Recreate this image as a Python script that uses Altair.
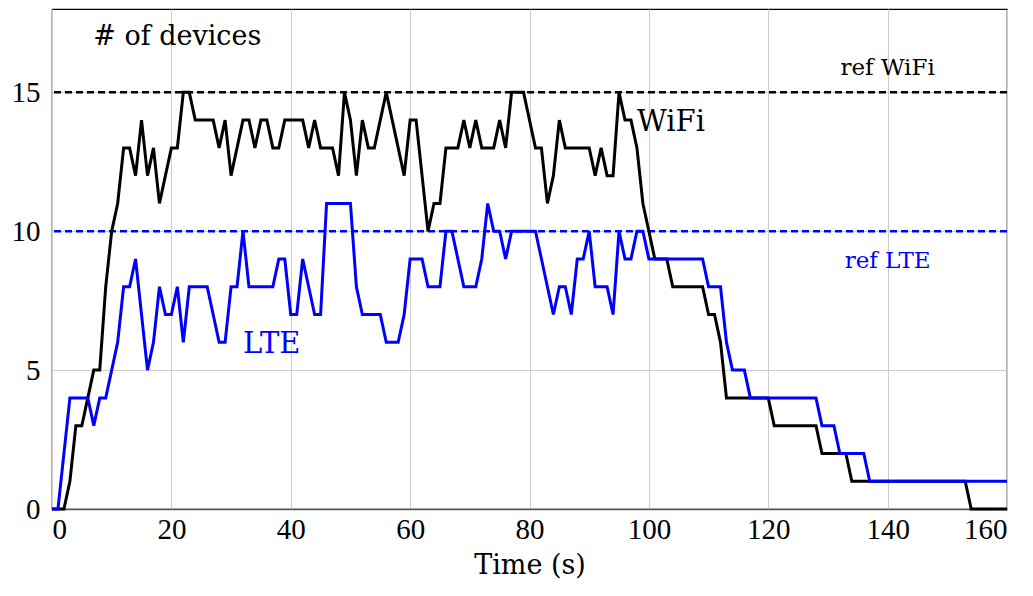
import altair as alt
import pandas as pd

# ---- data ----
time_s = list(range(161))

wifi = [0, 0, 0, 1, 3, 3, 4, 5, 5, 8,
        10, 11, 13, 13, 12, 14, 12, 13, 11, 12,
        13, 13, 15, 15, 14, 14, 14, 14, 13, 14,
        12, 13, 14, 14, 13, 14, 14, 13, 13, 14,
        14, 14, 14, 13, 14, 13, 13, 13, 12, 15,
        14, 12, 14, 13, 13, 14, 15, 14, 13, 12,
        14, 14, 12, 10, 11, 11, 13, 13, 13, 14,
        13, 14, 13, 13, 13, 14, 13, 15, 15, 15,
        14, 13, 13, 11, 12, 14, 13, 13, 13, 13,
        13, 12, 13, 12, 12, 15, 14, 14, 13, 11,
        10, 9, 9, 9, 8, 8, 8, 8, 8, 8,
        7, 7, 6, 4, 4, 4, 4, 4, 4, 4,
        4, 3, 3, 3, 3, 3, 3, 3, 3, 2,
        2, 2, 2, 2, 1, 1, 1, 1, 1, 1,
        1, 1, 1, 1, 1, 1, 1, 1, 1, 1,
        1, 1, 1, 1, 0, 0, 0, 0, 0, 0,
        0]

lte = [0, 0, 2, 4, 4, 4, 4, 3, 4, 4,
       5, 6, 8, 8, 9, 7, 5, 6, 8, 7,
       7, 8, 6, 8, 8, 8, 8, 7, 6, 6,
       8, 8, 10, 8, 8, 8, 8, 8, 9, 9,
       7, 7, 9, 8, 7, 7, 11, 11, 11, 11,
       11, 8, 7, 7, 7, 7, 6, 6, 6, 7,
       9, 9, 9, 8, 8, 8, 10, 10, 9, 8,
       8, 8, 9, 11, 10, 10, 9, 10, 10, 10,
       10, 10, 9, 8, 7, 8, 8, 7, 9, 9,
       10, 8, 8, 8, 7, 10, 9, 9, 10, 10,
       9, 9, 9, 9, 9, 9, 9, 9, 9, 9,
       8, 8, 8, 6, 5, 5, 5, 4, 4, 4,
       4, 4, 4, 4, 4, 4, 4, 4, 4, 3,
       3, 3, 2, 2, 2, 2, 2, 1, 1, 1,
       1, 1, 1, 1, 1, 1, 1, 1, 1, 1,
       1, 1, 1, 1, 1, 1, 1, 1, 1, 1,
       1]

ref_names = ["ref WiFi", "ref LTE"]
ref_values = [15, 10]
series_names = ["WiFi", "LTE"]
series_colors = ["#000000", "#0000ff"]

x_ticks = [0, 20, 40, 60, 80, 100, 120, 140, 160]
y_ticks = [0, 5, 10, 15]

# ---- tables ----
lines_df = pd.DataFrame({
    "t": time_s + time_s,
    "n": wifi + lte,
    "tech": ["WiFi"] * len(wifi) + ["LTE"] * len(lte),
})
ref_df = pd.DataFrame({"tech": series_names, "v": ref_values})

color = alt.Color("tech:N",
                  scale=alt.Scale(domain=series_names, range=series_colors),
                  legend=None)

xs = alt.Scale(domain=[0, 160], nice=False, zero=False)
ys = alt.Scale(domain=[0, 18], nice=False)

X = alt.X("t:Q", scale=xs,
          axis=alt.Axis(values=x_ticks, title="Time (s)", grid=True,
                        labelPadding=6, titlePadding=8))
Y = alt.Y("n:Q", scale=ys,
          axis=alt.Axis(values=y_ticks, title=None, grid=True,
                        labelPadding=12))

lines = alt.Chart(lines_df).mark_line(strokeWidth=3, strokeJoin="miter").encode(
    x=X, y=Y, color=color, detail="tech:N", order="t:Q")

refs = alt.Chart(ref_df).mark_rule(strokeWidth=2.5, strokeDash=[7, 4]).encode(
    y=alt.Y("v:Q", scale=ys), color=color)

title_text = pd.DataFrame({
    "t": [6.9], "n": [16.7], "label": ["# of devices"], "tech": ["WiFi"],
})
series_text = pd.DataFrame({
    "t": [98.0, 32.0],
    "n": [13.6, 5.6],
    "label": series_names,
    "tech": series_names,
})
small_text = pd.DataFrame({
    "t": [140.0, 140.0],
    "n": [15.63, 8.66],
    "label": ref_names,
    "tech": series_names,
})

ttl = alt.Chart(title_text).mark_text(
    align="left", baseline="alphabetic", font="DejaVu Serif", fontSize=27
).encode(x=alt.X("t:Q", scale=xs), y=alt.Y("n:Q", scale=ys),
         text="label:N", color=color)

ser = alt.Chart(series_text).mark_text(
    align="left", baseline="alphabetic", font="DejaVu Serif", fontSize=29
).encode(x=alt.X("t:Q", scale=xs), y=alt.Y("n:Q", scale=ys),
         text="label:N", color=color)

small = alt.Chart(small_text).mark_text(
    align="center", baseline="alphabetic", font="DejaVu Serif", fontSize=23
).encode(x=alt.X("t:Q", scale=xs), y=alt.Y("n:Q", scale=ys),
         text="label:N", color=color)

chart = alt.layer(refs, lines, ttl, ser, small).properties(
    width=955, height=500,
    autosize="none",
    padding={"left": 44, "top": 1, "right": 10, "bottom": 80},
).configure_view(
    stroke="black", strokeWidth=1.2
).configure_axis(
    labelFont="Liberation Serif", labelFontSize=29, labelColor="black",
    titleFont="DejaVu Serif", titleFontSize=27, titleFontWeight="normal",
    titleColor="black",
    gridColor="#cccccc", gridWidth=1,
    tickSize=0, domain=False,
).configure_axisX(
    domain=True, domainColor="#555555", domainWidth=1.5
)

chart.save("out.html", embed_options={"renderer": "svg", "actions": False})
